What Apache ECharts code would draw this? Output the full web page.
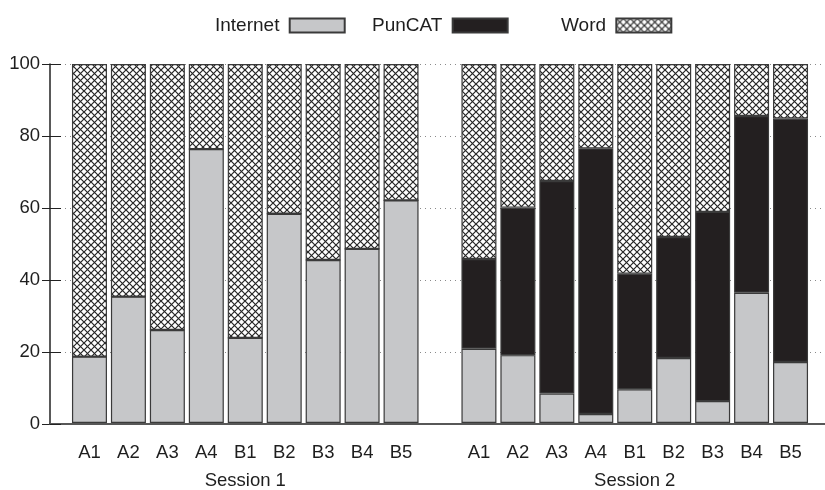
<!DOCTYPE html>
<html>
<head>
<meta charset="utf-8">
<script src="https://cdn.jsdelivr.net/npm/echarts@6/dist/echarts.min.js"></script>
<style>
  html, body { margin: 0; padding: 0; background: #fff; }
  #chart { width: 825px; height: 490px; }
</style>
</head>
<body>
<div id="chart"></div>
<script>
// Share of work time per tool (percent), per participant and session
const participants = ['A1', 'A2', 'A3', 'A4', 'B1', 'B2', 'B3', 'B4', 'B5'];
const sessions = ['Session 1', 'Session 2'];
const yTicks = [0, 20, 40, 60, 80, 100];

const internetS1 = [18.5, 35.2, 25.9, 76.3, 23.7, 58.3, 45.4, 48.5, 62.0];
const puncatS1   = [0, 0, 0, 0, 0, 0, 0, 0, 0];
const wordS1     = [81.5, 64.8, 74.1, 23.7, 76.3, 41.7, 54.6, 51.5, 38.0];

const internetS2 = [20.7, 18.9, 8.2, 2.5, 9.4, 18.1, 6.1, 36.3, 17.0];
const puncatS2   = [25.0, 41.1, 59.2, 74.0, 32.2, 33.7, 52.7, 49.2, 67.8];
const wordS2     = [54.3, 40.0, 32.6, 23.5, 58.4, 48.2, 41.2, 14.5, 15.2];

// Both sessions on one category axis, separated by an empty slot
const GAP = '-';
const slotLabels = participants.concat(['']).concat(participants);
const sessionLabels = slotLabels.map(function (_, i) {
  if (i === Math.floor(participants.length / 2)) return sessions[0];
  if (i === participants.length + 1 + Math.floor(participants.length / 2)) return sessions[1];
  return '';
});
const joinSessions = (a, b) => a.concat([GAP]).concat(b);

const FONT = 'Liberation Sans, Arial, Helvetica, sans-serif';
const TEXT = '#1e1e1e';
const EDGE = '#3a3a3a';

// Cross-hatch tile for the "Word" segments
function crossHatch() {
  const s = 7;
  const c = document.createElement('canvas');
  c.width = s; c.height = s;
  const g = c.getContext('2d');
  g.fillStyle = '#ffffff';
  g.fillRect(0, 0, s, s);
  g.strokeStyle = '#262626';
  g.lineWidth = 1.2;
  g.beginPath();
  g.moveTo(-1, -1); g.lineTo(s + 1, s + 1);
  g.moveTo(s + 1, -1); g.lineTo(-1, s + 1);
  g.stroke();
  return c;
}
const hatchFill = { image: crossHatch(), repeat: 'repeat' };

const chart = echarts.init(document.getElementById('chart'), null, { renderer: 'canvas' });

const frameTop = 64, frameBottom = 66;

function legendFor(name, left) {
  return {
    data: [{ name: name, icon: 'rect' }],
    left: left,
    top: 11,
    align: 'right',
    itemWidth: 55,
    itemHeight: 14,
    selectedMode: false,
    formatter: '{name} ',
    textStyle: { fontFamily: FONT, fontSize: 19, color: TEXT }
  };
}

chart.setOption({
  animation: false,
  backgroundColor: '#ffffff',
  legend: [
    legendFor('Internet', 210),
    legendFor('PunCAT', 367),
    legendFor('Word', 556)
  ],
  grid: [
    // frame: axes, ticks, dotted guides
    { left: 50, right: 0, top: frameTop, bottom: frameBottom },
    // bars
    { left: 70, right: 15, top: frameTop, bottom: frameBottom }
  ],
  xAxis: [
    {
      gridIndex: 0, type: 'value', min: 0, max: 1, position: 'bottom', z: 10,
      axisLine: { show: true, lineStyle: { color: '#222', width: 2 } },
      axisTick: { show: false }, axisLabel: { show: false }, splitLine: { show: false }
    },
    {
      gridIndex: 0, type: 'value', min: 0, max: 1, position: 'top', z: 10,
      axisLine: { show: true, lineStyle: { color: '#6a6a6a', width: 1.5 } },
      axisTick: { show: false }, axisLabel: { show: false }, splitLine: { show: false }
    },
    {
      gridIndex: 1, type: 'category', data: slotLabels, position: 'bottom',
      axisLine: { show: false }, axisTick: { show: false },
      axisLabel: { interval: 0, margin: 20, fontFamily: FONT, fontSize: 18.5, color: TEXT }
    },
    {
      gridIndex: 1, type: 'category', data: sessionLabels, position: 'bottom', offset: 0,
      axisLine: { show: false }, axisTick: { show: false },
      axisLabel: { interval: 0, margin: 48, fontFamily: FONT, fontSize: 18.5, color: TEXT }
    }
  ],
  yAxis: [
    {
      gridIndex: 0, type: 'value', min: yTicks[0], max: yTicks[yTicks.length - 1],
      interval: yTicks[1] - yTicks[0], position: 'left', z: 10,
      axisLine: { show: true, lineStyle: { color: '#222', width: 1.5 } },
      axisTick: { show: true, inside: true, length: 11, lineStyle: { color: '#222', width: 1 } },
      axisLabel: { margin: 10, fontFamily: FONT, fontSize: 18.5, color: TEXT },
      splitLine: { show: false }
    },
    {
      gridIndex: 0, type: 'value', min: yTicks[0], max: yTicks[yTicks.length - 1],
      interval: yTicks[1] - yTicks[0], position: 'right', z: 0,
      axisLine: { show: false },
      axisTick: { show: true, inside: true, length: 8, lineStyle: { color: '#222', width: 1 } },
      axisLabel: { show: false },
      splitLine: { show: true, lineStyle: { color: '#8a8a8a', width: 1, type: [1, 4] } }
    },
    {
      gridIndex: 1, type: 'value', min: yTicks[0], max: yTicks[yTicks.length - 1], show: false
    }
  ],
  series: [
    {
      name: 'Internet', type: 'bar', stack: 'share', xAxisIndex: 2, yAxisIndex: 2,
      barWidth: 35, z: 2,
      itemStyle: { color: '#c6c7c9', borderColor: EDGE, borderWidth: 1.2 },
      data: joinSessions(internetS1, internetS2)
    },
    {
      name: 'PunCAT', type: 'bar', stack: 'share', xAxisIndex: 2, yAxisIndex: 2,
      barWidth: 35, z: 2,
      itemStyle: { color: '#231f20', borderColor: EDGE, borderWidth: 1.2 },
      data: joinSessions(puncatS1, puncatS2)
    },
    {
      name: 'Word', type: 'bar', stack: 'share', xAxisIndex: 2, yAxisIndex: 2,
      barWidth: 35, z: 2,
      itemStyle: { color: hatchFill, borderColor: EDGE, borderWidth: 1.2 },
      data: joinSessions(wordS1, wordS2)
    }
  ]
});
</script>
</body>
</html>
